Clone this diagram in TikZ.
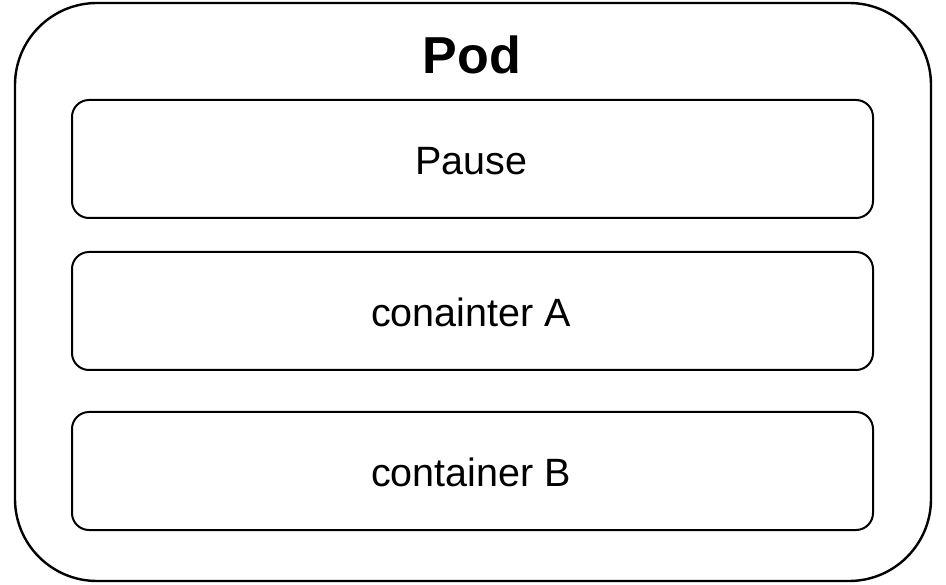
\documentclass[tikz,border=0pt]{standalone}
\usepackage{fontspec}
\setmainfont{Liberation Sans}
\begin{document}
\begin{tikzpicture}[x=1pt,y=-1pt,
  outerbox/.style={draw=black,line width=2.4pt,rounded corners=82pt},
  innerbox/.style={draw=black,line width=2pt,rounded corners=17pt},
  lbl/.style={anchor=base,inner sep=0pt,font=\fontsize{39.5}{46}\selectfont},
  title/.style={anchor=base,inner sep=0pt,font=\fontsize{52}{60}\selectfont\bfseries}]
\useasboundingbox (0,0) rectangle (946,585);
\draw[outerbox] (15,3) rectangle (931,581);
\draw[innerbox] (72,100) rectangle (873,218);
\draw[innerbox] (72,252) rectangle (873,370);
\draw[innerbox] (72,412) rectangle (873,530);
\node[title] (pod) at (472,73.5) {Pod};
\node[lbl] (pause) at (471,175) {Pause};
\node[lbl] (ca) at (471,327) {conainter A};
\node[lbl] (cb) at (471,486) {container B};
\end{tikzpicture}
\end{document}
